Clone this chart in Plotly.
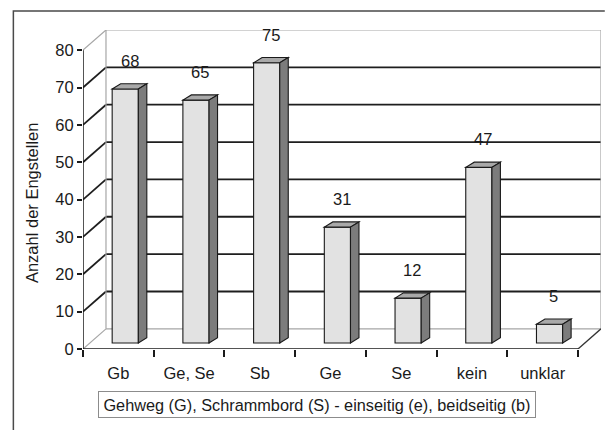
import plotly.graph_objects as go

# --- data -------------------------------------------------------------
categories = ["Gb", "Ge, Se", "Sb", "Ge", "Se", "kein", "unklar"]
counts = [68, 65, 75, 31, 12, 47, 5]
y_ticks = [0, 10, 20, 30, 40, 50, 60, 70, 80]
y_title = "Anzahl der Engstellen"
x_caption = "Gehweg (G), Schrammbord (S) - einseitig (e), beidseitig (b)"

# --- page / plot-area geometry (pixels) -------------------------------
FIG_W, FIG_H = 614, 430
PL, PR, PT, PB = 82.7, 601.2, 30.0, 349.5

# oblique depth of the chart box, in data units
DEPTH_X = 0.325
DEPTH_Y = 5.4
Y_MAX = 80

# 3-D column geometry
BAR_W = 0.37
BAR_POS = 0.3          # fraction of the box depth where a column's front sits
BAR_DX = 0.12
BAR_DY = 1.4

FONT = "Liberation Sans, Arial, sans-serif"
INK = "#1a1a1a"
WALL = "#a6a6a6"
GRID = "#1e1e1e"

x_lo, x_hi = -0.5, len(categories) - 0.5
bar_base = BAR_POS * DEPTH_Y
bar_off = BAR_POS * DEPTH_X - BAR_W / 2


def px_x(px):
    return (px - PL) / (PR - PL)


def px_y(py):
    return (PB - py) / (PB - PT)


def seg(x0, y0, x1, y1, color, width, layer="below"):
    return dict(type="line", xref="x", yref="y", x0=x0, y0=y0, x1=x1, y1=y1,
                line=dict(color=color, width=width), layer=layer)


shapes = []

# back wall gridlines plus their diagonals on the left wall
for v in y_ticks:
    edge = v in (0, Y_MAX)
    col, w = (WALL, 1.2) if edge else (GRID, 1.8)
    shapes.append(seg(x_lo, v, x_lo + DEPTH_X, v + DEPTH_Y, col, w))
    shapes.append(seg(x_lo + DEPTH_X, v + DEPTH_Y, x_hi + DEPTH_X, v + DEPTH_Y, col, w))

# vertical edges of the back wall
shapes.append(seg(x_lo + DEPTH_X, DEPTH_Y, x_lo + DEPTH_X, Y_MAX + DEPTH_Y, WALL, 1.2))
shapes.append(seg(x_hi + DEPTH_X, DEPTH_Y, x_hi + DEPTH_X, Y_MAX + DEPTH_Y, WALL, 1.2))

# floor: right diagonal edge
shapes.append(seg(x_hi, 0, x_hi + DEPTH_X, DEPTH_Y, "#333333", 1.3))

# front value axis and category axis lines
shapes.append(seg(x_lo, 0, x_lo, Y_MAX, INK, 1.5, "above"))
shapes.append(seg(x_lo, 0, x_hi, 0, INK, 1.5, "above"))

# top and side faces of each column
for i, v in enumerate(counts):
    x0 = i + bar_off
    x1 = x0 + BAR_W
    top = v + bar_base
    shapes.append(dict(
        type="path", xref="x", yref="y", layer="above",
        path=f"M {x0},{top} L {x1},{top} L {x1 + BAR_DX},{top + BAR_DY} "
             f"L {x0 + BAR_DX},{top + BAR_DY} Z",
        fillcolor="#a9a9a9", line=dict(color=INK, width=1.1)))
    shapes.append(dict(
        type="path", xref="x", yref="y", layer="above",
        path=f"M {x1},{bar_base} L {x1},{top} L {x1 + BAR_DX},{top + BAR_DY} "
             f"L {x1 + BAR_DX},{bar_base + BAR_DY} Z",
        fillcolor="#7c7c7c", line=dict(color=INK, width=1.1)))

# outer chart frame (open at the right and bottom)
shapes.append(dict(
    type="path", xref="paper", yref="paper", layer="above",
    path=f"M {px_x(13)},{px_y(445)} L {px_x(13)},{px_y(11)} L {px_x(605)},{px_y(11)}",
    line=dict(color="#4a4a4a", width=1.5)))

annotations = []

# value labels above the columns
for i, v in enumerate(counts):
    annotations.append(dict(
        x=i + bar_off + BAR_W / 2 + BAR_DX / 2, y=v + bar_base + BAR_DY,
        xref="x", yref="y", text=str(v), showarrow=False,
        xanchor="center", yanchor="bottom", yshift=12,
        font=dict(family=FONT, size=16.5, color=INK)))

# rotated value-axis title
annotations.append(dict(
    x=px_x(31), y=px_y(203), xref="paper", yref="paper",
    text=y_title, textangle=-90, showarrow=False,
    xanchor="center", yanchor="middle",
    font=dict(family=FONT, size=16.5, color=INK)))

# boxed category-axis caption
annotations.append(dict(
    x=px_x(317), y=px_y(405.5), xref="paper", yref="paper",
    text=x_caption, showarrow=False, width=430, height=19,
    xanchor="center", yanchor="middle",
    bordercolor="#8c8c8c", borderwidth=1, borderpad=3, bgcolor="white",
    font=dict(family=FONT, size=16.3, color=INK)))

fig = go.Figure()
fig.add_trace(go.Bar(
    x=list(range(len(categories))), y=counts, base=bar_base,
    width=BAR_W, offset=bar_off,
    marker=dict(color="#e2e2e2", line=dict(color=INK, width=1.1)),
    hoverinfo="skip", showlegend=False))

fig.update_layout(
    width=FIG_W, height=FIG_H,
    margin=dict(l=PL, r=FIG_W - PR, t=PT, b=FIG_H - PB, pad=0),
    paper_bgcolor="white", plot_bgcolor="white",
    showlegend=False,
    font=dict(family=FONT, size=16, color=INK),
    xaxis=dict(
        range=[x_lo, x_hi + DEPTH_X], showgrid=False, zeroline=False,
        showline=False, tickmode="array",
        tickvals=list(range(len(categories))), ticktext=categories,
        ticks="", ticklabelstandoff=12,
        tickfont=dict(family=FONT, size=16.5, color=INK)),
    xaxis2=dict(
        overlaying="x", matches="x", anchor="y", side="bottom",
        range=[x_lo, x_hi + DEPTH_X], showgrid=False, zeroline=False,
        showline=False, tickmode="array",
        tickvals=[x_lo + k for k in range(len(categories) + 1)],
        showticklabels=False, ticks="outside", ticklen=7,
        tickwidth=1.5, tickcolor=INK),
    yaxis=dict(
        range=[0, Y_MAX + DEPTH_Y], showgrid=False, zeroline=False,
        showline=False, tickmode="array", tickvals=y_ticks,
        ticks="outside", ticklen=5, tickwidth=1.5, tickcolor=INK,
        tickfont=dict(family=FONT, size=16.5, color=INK)),
    shapes=shapes, annotations=annotations,
)

# invisible trace so the boundary-tick axis is drawn
fig.add_trace(go.Scatter(x=[x_lo], y=[0], xaxis="x2", yaxis="y",
                         mode="markers", marker=dict(opacity=0),
                         hoverinfo="skip", showlegend=False))

fig.write_html("out.html")
